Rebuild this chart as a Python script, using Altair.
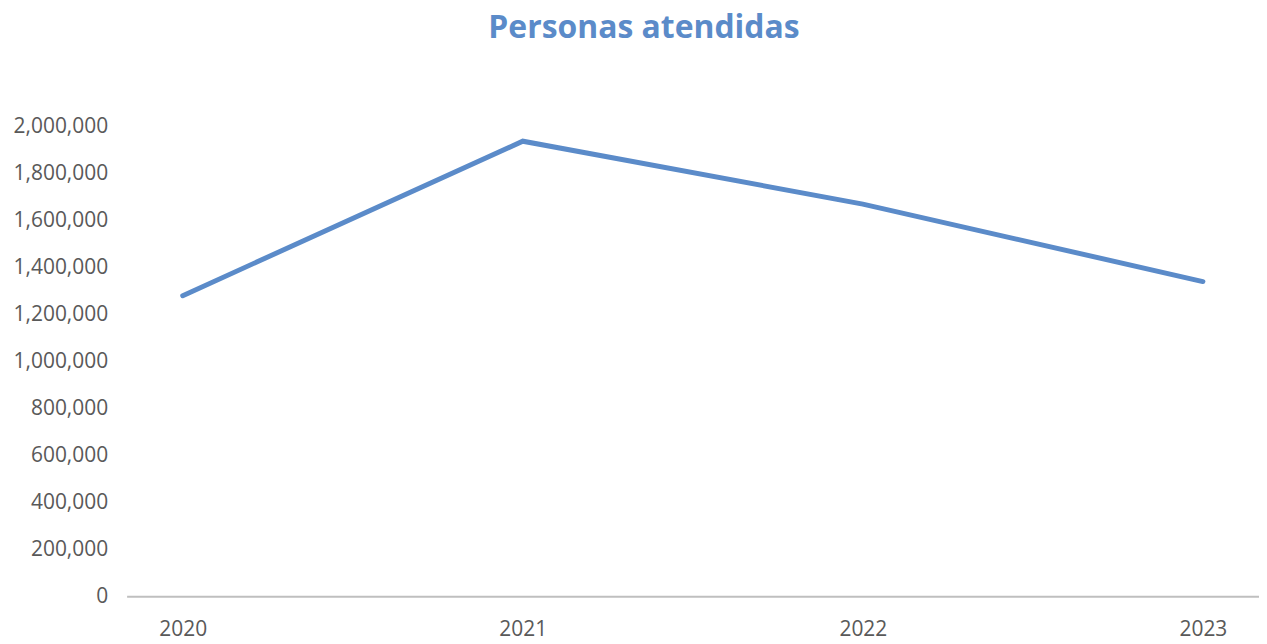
import altair as alt
import pandas as pd

years = ["2020", "2021", "2022", "2023"]
personas = [1280000, 1938000, 1670000, 1340000]

df = pd.DataFrame({"Año": years, "Personas": personas})

FONT = "Open Sans"
LINE_COLOR = "#5b8bc9"

chart = (
    alt.Chart(df)
    .mark_line(color=LINE_COLOR, strokeWidth=5, strokeCap="round", strokeJoin="miter")
    .encode(
        x=alt.X(
            "Año:N",
            sort=years,
            scale=alt.Scale(type="point", padding=0.165),
            axis=alt.Axis(
                title=None,
                labelAngle=0,
                labelFont=FONT,
                labelFontSize=21,
                labelColor="#595959",
                labelPadding=22,
                ticks=False,
                tickSize=0,
                domain=True,
                domainColor="#bfbfbf",
                domainWidth=2,
                grid=False,
            ),
        ),
        y=alt.Y(
            "Personas:Q",
            scale=alt.Scale(domain=[0, 2000000], nice=False),
            axis=alt.Axis(
                title=None,
                values=[0, 200000, 400000, 600000, 800000, 1000000, 1200000,
                        1400000, 1600000, 1800000, 2000000],
                format=",d",
                labelFont=FONT,
                labelFontSize=21,
                labelColor="#595959",
                labelPadding=19,
                ticks=False,
                tickSize=0,
                domain=False,
                grid=False,
                minExtent=113,
                maxExtent=113,
            ),
        ),
    )
    .properties(
        width=1136,
        height=471,
        background="white",
        padding={"left": 5, "top": 3, "right": 0, "bottom": 0},
        title=alt.TitleParams(
            "Personas atendidas",
            font=FONT,
            fontSize=32,
            fontWeight="bold",
            color=LINE_COLOR,
            anchor="middle",
            offset=71,
            dx=-49,
        ),
    )
    .configure_view(strokeWidth=0, stroke="transparent")
)

chart.save("out.html", embed_options={"renderer": "svg", "actions": False})
